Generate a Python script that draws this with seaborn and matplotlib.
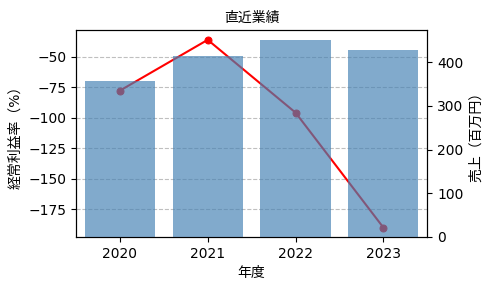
import pandas as pd
import matplotlib
matplotlib.use("Agg")
import matplotlib.pyplot as plt
import seaborn as sns

plt.rcParams['font.family'] = ['DejaVu Sans', 'Noto Sans CJK JP']
plt.rcParams['axes.unicode_minus'] = True

# データ
years = ["2020", "2021", "2022", "2023"]
sales = [356, 415, 450, 428]          # 売上（百万円）
margin = [-77.7, -36.1, -95.7, -189.8]  # 経常利益率（%）

df = pd.DataFrame({"年度": years, "売上": sales, "経常利益率": margin})

fig, ax1 = plt.subplots(figsize=(4.9, 2.9), dpi=100)

# 経常利益率（左軸）
sns.lineplot(data=df, x="年度", y="経常利益率", ax=ax1, color="red",
             marker="o", markersize=5, markeredgecolor="red", sort=False)
ax1.set_ylabel("経常利益率（%）")
ax1.set_xlabel("年度")
ax1.grid(axis="y", linestyle="--", color="gray", alpha=0.5)

# 売上（右軸）
ax2 = ax1.twinx()
sns.barplot(data=df, x="年度", y="売上", ax=ax2, color="steelblue",
            alpha=0.68, saturation=1)
ax2.set_ylabel("売上（百万円）")
ax2.set_xlim(-0.5, 3.5)

ax1.set_title("直近業績", fontsize=10)
fig.subplots_adjust(left=0.155, right=0.872, top=0.895, bottom=0.183)
plt.savefig("out.png")
